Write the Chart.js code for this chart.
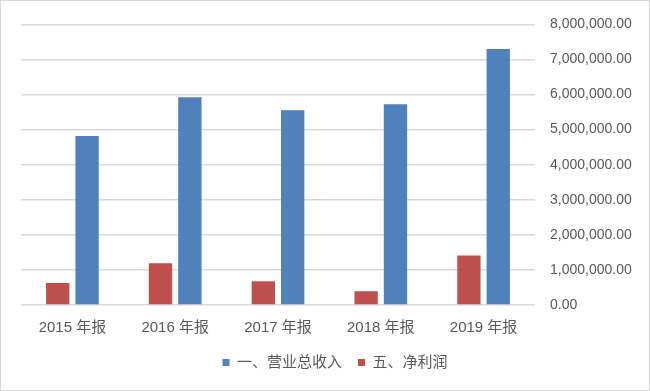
<!DOCTYPE html>
<html>
<head>
<meta charset="utf-8">
<script src="https://cdn.jsdelivr.net/npm/chart.js@4/dist/chart.umd.min.js"></script>
<style>
  html, body { margin: 0; padding: 0; background: #fff; }
  .wrap { position: relative; width: 650px; height: 391px; box-sizing: border-box; border: 1px solid #d9d9d9; }
</style>
</head>
<body>
<div class="wrap"><canvas id="chart"></canvas></div>
<script>
const categories = ["2015 年报", "2016 年报", "2017 年报", "2018 年报", "2019 年报"];
const revenue = [4820000, 5920000, 5550000, 5720000, 7300000];
const netProfit = [630000, 1190000, 680000, 390000, 1410000];
const yTicks = [0, 1000000, 2000000, 3000000, 4000000, 5000000, 6000000, 7000000, 8000000];

const fontFamily = "'Liberation Sans', 'Noto Sans CJK SC', sans-serif";

const ctx = document.getElementById("chart");
new Chart(ctx, {
    type: "bar",
    data: {
        labels: categories,
        datasets: [
            {
                label: "五、净利润",
                data: netProfit,
                backgroundColor: "#c0504d",
            },
            {
                label: "一、营业总收入",
                data: revenue,
                backgroundColor: "#4f81bd",
            },
        ],
    },
    options: {
        responsive: true,
        maintainAspectRatio: false,
        animation: false,
        categoryPercentage: 0.571,
        barPercentage: 0.795,
        layout: {
            padding: { left: 20, right: 0, top: 6, bottom: 10 },
        },
        scales: {
            x: {
                grid: { display: false },
                border: { display: false },
                ticks: {
                    color: "#595959",
                    padding: 6,
                    font: { family: fontFamily, size: 15 },
                },
                afterFit: (scale) => { scale.height = 34; },
            },
            y: {
                position: "right",
                min: 0,
                max: 8000000,
                afterBuildTicks: (scale) => {
                    scale.ticks = yTicks.map((v) => ({ value: v }));
                },
                grid: {
                    color: "#d9d9d9",
                    lineWidth: 1.5,
                    drawTicks: false,
                },
                border: { display: false },
                ticks: {
                    color: "#595959",
                    padding: 15,
                    font: { family: fontFamily, size: 14 },
                    callback: (v) => Number(v).toLocaleString("en-US", { minimumFractionDigits: 2, maximumFractionDigits: 2 }),
                },
                afterFit: (scale) => { scale.width = 114; },
            },
        },
        plugins: {
            legend: {
                position: "bottom",
                reverse: true,
                labels: {
                    color: "#595959",
                    boxWidth: 7,
                    boxHeight: 7,
                    padding: 16,
                    font: { family: fontFamily, size: 15 },
                },
            },
            tooltip: { enabled: false },
        },
    },
});
</script>
</body>
</html>
